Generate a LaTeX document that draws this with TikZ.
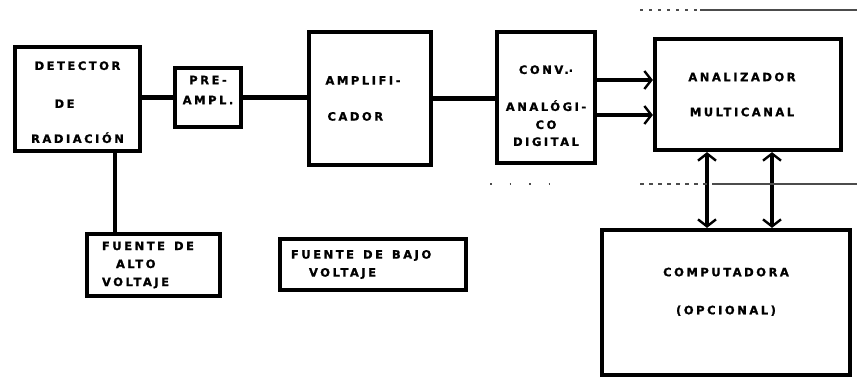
\documentclass[tikz,border=0pt]{standalone}
\usepackage{fontspec}
\setmainfont{DejaVu Sans}[LetterSpace=22,BoldFeatures={FakeBold=1.2}]
\usepackage{tikz}
\usetikzlibrary{arrows.meta,calc,positioning}
\newcommand{\blocktext}{\fontsize{11.5}{13}\selectfont\bfseries}
\newcommand{\wgap}{\hspace{9pt}}

\begin{document}
\begin{tikzpicture}[x=1pt,y=-1pt,
  blk/.style={draw,line width=4.2pt,inner sep=0pt,align=center,font=\blocktext},
  wire/.style={line width=4.2pt},
  feed/.style={line width=4.2pt,-{Straight Barb[length=7pt,width=18pt,line width=2.4pt]}},
  bus/.style={line width=4.2pt,{Straight Barb[length=7pt,width=18pt,line width=2.4pt]}-{Straight Barb[length=7pt,width=18pt,line width=2.4pt]}},
  scan/.style={line width=1.2pt,black!70}]
  \useasboundingbox (0,0) rectangle (857,381);
  % blocks
  \node[blk,minimum width=125,minimum height=104] (det) at (77.5,99)
    {\mbox{}\\[2pt]DETECTOR\\[25pt]\mbox{DE\hspace{26pt}}\\[22pt]RADIACIÓN};
  \node[blk,minimum width=66,minimum height=59] (pre) at (208,97.5)
    {PRE-\\[7pt]AMPL.\\[2pt]\mbox{}};
  \node[blk,minimum width=122,minimum height=133,align=left] (amp) at (370,98.5)
    {\mbox{AMPLIFI-\hspace{14pt}}\\[23pt]\hspace{2pt}CADOR};
  \node[blk,minimum width=98,minimum height=131] (adc) at (546,97.5)
    {\mbox{}\\[12pt]CONV.\raisebox{2pt}{.}\\[24pt]ANALÓGI-\\[5pt]CO\\[4pt]DIGITAL};
  \node[blk,minimum width=186,minimum height=111] (mca) at (748,94.5)
    {\mbox{ANALIZADOR\hspace{12pt}}\\[22pt]\mbox{MULTICANAL\hspace{12pt}}};
  \node[blk,minimum width=248,minimum height=145] (comp) at (726,302.5)
    {COMPUTADORA\\[25pt](OPCIONAL)\\[10pt]\mbox{}};
  \node[blk,minimum height=62,inner xsep=15pt,text width=103pt,align=left] (hv) at (153.5,265)
    {FUENTE\wgap DE\\[5pt]\hspace{14pt}ALTO\\[5pt]VOLTAJE};
  \node[blk,minimum height=51,inner xsep=11pt,text width=164pt,align=left] (lv) at (373,264.5)
    {FUENTE\wgap DE\wgap BAJO\\[5pt]\hspace{18pt}VOLTAJE};
  % connections
  \draw[wire] (pre.west) -- (pre.west -| det.east);
  \draw[wire] (pre.east) -- (pre.east -| amp.west);
  \draw[wire] (amp.east) -- (amp.east -| adc.west);
  \coordinate (d1) at ($(det.south)+(37.5,0)$);
  \draw[wire] (d1) -- (d1 |- hv.north);
  \coordinate (c1) at ($(adc.east)+(0,-17.5)$);
  \coordinate (c2) at ($(adc.east)+(0,17.5)$);
  \draw[feed] (c1) -- (c1 -| mca.west);
  \draw[feed] (c2) -- (c2 -| mca.west);
  \coordinate (b1) at ($(mca.south)+(-41,0)$);
  \coordinate (b2) at ($(mca.south)+(24,0)$);
  \draw[bus] (b1) -- (b1 |- comp.north);
  \draw[bus] (b2) -- (b2 |- comp.north);
  % faint rules of the page
  \draw[scan,dash pattern=on 3pt off 6pt] (640,10) -- (700,10);
  \draw[scan] (700,10) -- (857,10);
  \draw[scan,dash pattern=on 1.5pt off 18pt] (490,184) -- (552,184);
  \draw[scan,dash pattern=on 4pt off 5pt] (640,184) -- (712,184);
  \draw[scan] (712,184) -- (857,184);
\end{tikzpicture}
\end{document}
